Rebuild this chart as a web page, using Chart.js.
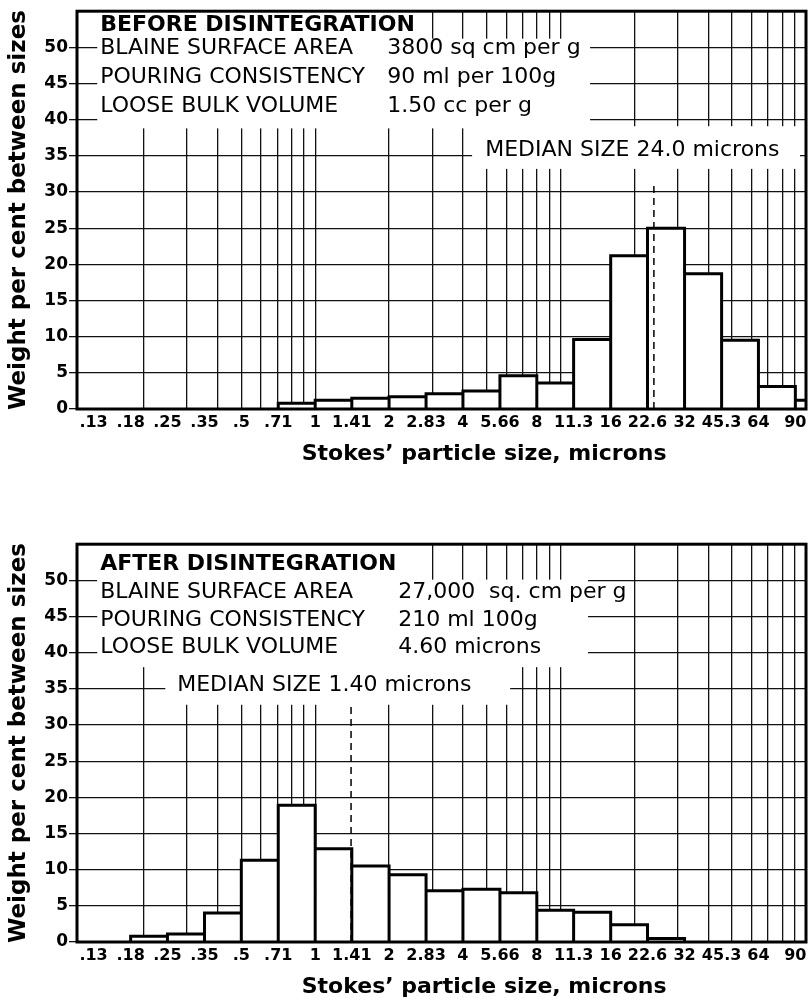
<!DOCTYPE html>
<html>
<head>
<meta charset="utf-8">
<script src="https://cdn.jsdelivr.net/npm/chart.js@4.4.1/dist/chart.umd.min.js"></script>
<style>
  html, body { margin: 0; padding: 0; background: #fff; }
  body { width: 810px; height: 1002px; position: relative; overflow: hidden; }
  .panel { position: absolute; left: 0; width: 810px; height: 469px; }
  #top { top: 0; }
  #bottom { top: 533px; }
</style>
</head>
<body>
<div class="panel" id="top"><canvas id="chartBefore" width="810" height="469"></canvas></div>
<div class="panel" id="bottom"><canvas id="chartAfter" width="810" height="469"></canvas></div>
<script>
// size class edges in microns (sqrt 2 steps), last one closes the 90 class
const sizeEdges = [0.125, 0.177, 0.25, 0.354, 0.5, 0.707, 1, 1.41, 2, 2.83, 4, 5.66, 8, 11.3, 16, 22.6, 32, 45.3, 64, 90.5, 128];
const sizeLabels = ['.13', '.18', '.25', '.35', '.5', '.71', '1', '1.41', '2', '2.83', '4', '5.66', '8', '11.3', '16', '22.6', '32', '45.3', '64', '90'];
// log paper rulings
const gridSizes = [0.2, 0.3, 0.4, 0.5, 0.6, 0.7, 0.8, 0.9, 1, 2, 3, 4, 5, 6, 7, 8, 9, 10, 20, 30, 40, 50, 60, 70, 80, 90, 100];
const weightTicks = [0, 5, 10, 15, 20, 25, 30, 35, 40, 45, 50];

// weight per cent in each size class (class i = sizeEdges[i] .. sizeEdges[i+1])
const weightBefore = [0, 0, 0, 0, 0, 0.8, 1.2, 1.5, 1.7, 2.1, 2.5, 4.6, 3.6, 9.6, 21.2, 25.0, 18.7, 9.5, 3.1, 1.2];
const weightAfter = [0, 0.8, 1.1, 4.0, 11.3, 18.9, 12.9, 10.5, 9.3, 7.1, 7.3, 6.8, 4.4, 4.1, 2.4, 0.5, 0, 0, 0, 0];

const medianBefore = 24.0;
const medianAfter = 1.40;

const FONT = '"DejaVu Sans", Verdana, sans-serif';
const X_TITLE = 'Stokes’ particle size, microns';

// notes written on the graph paper (boxes = whited-out paper behind the text)
const notesBefore = {
    boxes: [
        { x0: 0.1294, x1: 2.886, y0: 55, y1: 51.0 },
        { x0: 0.1294, x1: 13.19, y0: 51.2, y1: 38.8 },
        { x0: 4.36, x1: 94.5, y0: 39.1, y1: 33.2 }
    ],
    texts: [
        { x: 0.133, y: 53.0, text: 'BEFORE DISINTEGRATION', bold: true },
        { x: 0.133, y: 49.9, text: 'BLAINE SURFACE AREA' },
        { x: 1.965, y: 49.9, text: '3800 sq cm per g' },
        { x: 0.133, y: 45.9, text: 'POURING CONSISTENCY' },
        { x: 1.965, y: 45.9, text: '90 ml per 100g' },
        { x: 0.133, y: 41.9, text: 'LOOSE BULK VOLUME' },
        { x: 1.965, y: 41.9, text: '1.50 cc per g' },
        { x: 4.93, y: 35.8, text: 'MEDIAN SIZE 24.0 microns' }
    ]
};

const notesAfter = {
    boxes: [
        { x0: 0.1294, x1: 2.68, y0: 55, y1: 49.9 },
        { x0: 0.1294, x1: 12.94, y0: 50.1, y1: 38.0 },
        { x0: 0.245, x1: 6.23, y0: 38.5, y1: 32.8 }
    ],
    texts: [
        { x: 0.133, y: 52.2, text: 'AFTER DISINTEGRATION', bold: true },
        { x: 0.133, y: 48.4, text: 'BLAINE SURFACE AREA' },
        { x: 2.178, y: 48.4, text: '27,000  sq. cm per g' },
        { x: 0.133, y: 44.5, text: 'POURING CONSISTENCY' },
        { x: 2.178, y: 44.5, text: '210 ml 100g' },
        { x: 0.133, y: 40.8, text: 'LOOSE BULK VOLUME' },
        { x: 2.178, y: 40.8, text: '4.60 microns' },
        { x: 0.274, y: 35.5, text: 'MEDIAN SIZE 1.40 microns' }
    ]
};

// outline of the histogram, one rectangle per size class
function binOutline(weights) {
    const pts = [];
    weights.forEach((w, i) => {
        if (!w) return;
        const lo = sizeEdges[i], hi = sizeEdges[i + 1];
        pts.push({ x: lo, y: 0 }, { x: lo, y: w }, { x: hi, y: w }, { x: hi, y: 0 });
    });
    return pts;
}

// ticks = log rulings + labelled class edges
function sizeTicks() {
    const map = new Map();
    gridSizes.forEach(v => map.set(v, { value: v, txt: '', grid: true }));
    sizeLabels.forEach((lab, i) => {
        const v = sizeEdges[i];
        const t = map.get(v) || { value: v, txt: '', grid: false };
        t.txt = lab;
        map.set(v, t);
    });
    return [...map.values()].sort((a, b) => a.value - b.value);
}

function notesPlugin(notes) {
    return {
        id: 'notes',
        beforeDatasetsDraw(chart) {
            const { ctx, scales: { x, y } } = chart;
            ctx.save();
            ctx.fillStyle = '#fff';
            notes.boxes.forEach(b => {
                const x0 = x.getPixelForValue(b.x0), x1 = x.getPixelForValue(b.x1);
                const y0 = y.getPixelForValue(b.y0), y1 = y.getPixelForValue(b.y1);
                ctx.fillRect(x0, y0, x1 - x0, y1 - y0);
            });
            ctx.fillStyle = '#000';
            ctx.textBaseline = 'middle';
            ctx.textAlign = 'left';
            notes.texts.forEach(t => {
                ctx.font = (t.bold ? 'bold 22px ' : '22px ') + FONT;
                ctx.fillText(t.text, x.getPixelForValue(t.x), y.getPixelForValue(t.y));
            });
            ctx.restore();
        },
        afterDraw(chart) {
            // axis title sits right of centre on the original
            const { ctx, scales: { x } } = chart;
            ctx.save();
            ctx.fillStyle = '#000';
            ctx.font = 'bold 22px ' + FONT;
            ctx.textAlign = 'center';
            ctx.textBaseline = 'middle';
            ctx.fillText(X_TITLE, x.getPixelForValue(4.88), chart.height - 15);
            ctx.restore();
        }
    };
}

const framePlugin = {
    id: 'frame',
    afterDraw(chart) {
        const { ctx, chartArea: a } = chart;
        ctx.save();
        ctx.strokeStyle = '#000';
        ctx.lineWidth = 3;
        ctx.strokeRect(a.left, a.top, a.right - a.left, a.bottom - a.top);
        ctx.restore();
    }
};

function makeChart(id, weights, median, medianTop, notes) {
    return new Chart(document.getElementById(id), {
        type: 'line',
        data: {
            datasets: [
                {
                    data: [{ x: median, y: 0 }, { x: median, y: medianTop }],
                    borderColor: '#000',
                    borderWidth: 1.5,
                    borderDash: [7, 5],
                    pointRadius: 0,
                    fill: false,
                    order: 0
                },
                {
                    data: binOutline(weights),
                    borderColor: '#000',
                    borderWidth: 3,
                    borderJoinStyle: 'miter',
                    backgroundColor: '#fff',
                    fill: 'origin',
                    pointRadius: 0,
                    tension: 0,
                    order: 1
                }
            ]
        },
        options: {
            responsive: false,
            animation: false,
            layout: { padding: { top: 4, right: 4, left: 0, bottom: 0 } },
            plugins: { legend: { display: false }, tooltip: { enabled: false } },
            scales: {
                x: {
                    type: 'logarithmic',
                    min: 0.107,
                    max: 100,
                    bounds: 'data',
                    afterBuildTicks: s => { s.ticks = sizeTicks(); },
                    afterFit: s => { s.height = 60; },
                    ticks: {
                        autoSkip: false,
                        maxRotation: 0,
                        padding: 4,
                        color: '#000',
                        font: { family: FONT, size: 16, weight: 'bold' },
                        callback: (v, i, ticks) => ticks[i].txt
                    },
                    grid: {
                        drawTicks: false,
                        lineWidth: 1.3,
                        color: c => (c.tick && c.tick.grid) ? '#111' : 'rgba(0,0,0,0)'
                    },
                    border: { display: false },
                    title: { display: false }
                },
                y: {
                    min: 0,
                    max: 55,
                    afterBuildTicks: s => { s.ticks = weightTicks.map(v => ({ value: v })); },
                    afterFit: s => { s.width = 77; },
                    ticks: {
                        padding: 1,
                        color: '#000',
                        font: { family: FONT, size: 17, weight: 'bold' }
                    },
                    grid: { color: '#111', lineWidth: 1.3, tickLength: 8, tickColor: '#111' },
                    border: { display: false },
                    title: {
                        display: true,
                        text: 'Weight per cent between sizes',
                        color: '#000',
                        font: { family: FONT, size: 23, weight: 'bold' },
                        padding: { top: 5, bottom: 0 }
                    }
                }
            }
        },
        plugins: [notesPlugin(notes), framePlugin]
    });
}

makeChart('chartBefore', weightBefore, medianBefore, 31.5, notesBefore);
makeChart('chartAfter', weightAfter, medianAfter, 33, notesAfter);
</script>
</body>
</html>
